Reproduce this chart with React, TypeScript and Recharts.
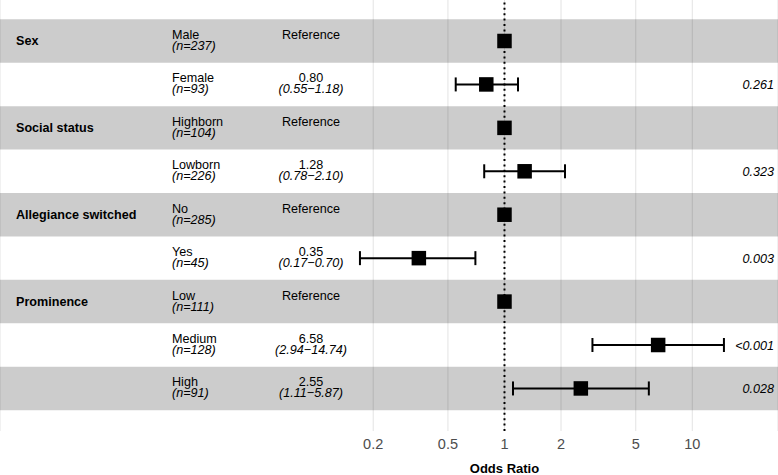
import React from "react";
import {
  CartesianGrid,
  ErrorBar,
  ReferenceArea,
  ReferenceLine,
  Scatter,
  ScatterChart,
  XAxis,
  YAxis,
} from "recharts";

const groups = ["Sex", "", "Social status", "", "Allegiance switched", "", "Prominence", "", ""];
const levels = ["Male", "Female", "Highborn", "Lowborn", "No", "Yes", "Low", "Medium", "High"];
const counts = [237, 93, 104, 226, 285, 45, 111, 128, 91];
const oddsRatios = [1, 0.8, 1, 1.28, 1, 0.35, 1, 6.58, 2.55];
const ciLow: (number | null)[] = [null, 0.55, null, 0.78, null, 0.17, null, 2.94, 1.11];
const ciHigh: (number | null)[] = [null, 1.18, null, 2.1, null, 0.7, null, 14.74, 5.87];
const pValues = ["", "0.261", "", "0.323", "", "0.003", "", "<0.001", "0.028"];
const xTicks = [0.2, 0.5, 1, 2, 5, 10];

const rows = levels.map((level, i) => ({
  row: i + 1,
  group: groups[i],
  level,
  n: counts[i],
  or: oddsRatios[i],
  lo: ciLow[i],
  hi: ciHigh[i],
  p: pValues[i],
  err: ciLow[i] == null ? undefined : [oddsRatios[i] - (ciLow[i] as number), (ciHigh[i] as number) - oddsRatios[i]],
}));
const refRows = rows.filter((r) => r.lo == null);
const estRows = rows.filter((r) => r.lo != null);
const rowIds = rows.map((r) => r.row);

const FONT = "'Liberation Sans', Arial, Helvetica, sans-serif";
const W = 778;
const H = 475;

// text column positions
const COL_GROUP = 16;
const COL_LEVEL = 172;
const COL_EST = 311;
const COL_P = 774;
const LINE1 = -2;
const LINE2 = 9;

const Square = (props: any) => {
  const { cx, cy } = props;
  const s = 14.5;
  return <rect x={cx - s / 2} y={cy - s / 2} width={s} height={s} fill="#000" />;
};

const LeftTick = (props: any) => {
  const { y, payload } = props;
  const r = rows[payload.value - 1];
  if (!r) return null;
  const est = r.lo == null;
  return (
    <g fontFamily={FONT} fontSize={12.6} fill="#000">
      {r.group && (
        <text x={COL_GROUP} y={y + 4.5} fontWeight="bold">
          {r.group}
        </text>
      )}
      <text x={COL_LEVEL} y={y + LINE1}>{r.level}</text>
      <text x={COL_LEVEL} y={y + LINE2} fontStyle="italic">{`(n=${r.n})`}</text>
      {est ? (
        <text x={COL_EST} y={y + LINE1} textAnchor="middle">Reference</text>
      ) : (
        <>
          <text x={COL_EST} y={y + LINE1} textAnchor="middle">{r.or.toFixed(2)}</text>
          <text x={COL_EST} y={y + LINE2} textAnchor="middle" fontStyle="italic">
            {`(${(r.lo as number).toFixed(2)}\u2212${(r.hi as number).toFixed(2)})`}
          </text>
        </>
      )}
    </g>
  );
};

const RightTick = (props: any) => {
  const { y, payload } = props;
  const r = rows[payload.value - 1];
  if (!r || !r.p) return null;
  return (
    <text x={COL_P} y={y + 4.5} textAnchor="end" fontFamily={FONT} fontSize={12.6} fontStyle="italic" fill="#000">
      {r.p}
    </text>
  );
};

export default function App() {
  return (
    <div style={{ position: "absolute", left: 0, top: 0, width: W, height: H, background: "#fff" }}>
      <ScatterChart width={W} height={H} margin={{ top: 0, right: -1, bottom: 14, left: -1 }}>
        <CartesianGrid horizontal={false} stroke="#e3e3e3" strokeWidth={1} />
        <XAxis
          type="number"
          dataKey="or"
          scale="log"
          domain={[0.00206, 28.6]}
          allowDataOverflow
          ticks={xTicks}
          tickFormatter={(v: number) => String(v)}
          axisLine={false}
          tickLine={false}
          tickSize={6}
          tickMargin={2}
          height={30}
          tick={{ fill: "#4d4d4d", fontSize: 14.5, fontFamily: FONT }}
        />
        <YAxis
          yAxisId="left"
          type="number"
          dataKey="row"
          domain={[0.056, 9.98]}
          reversed
          allowDataOverflow
          ticks={rowIds}
          interval={0}
          width={1}
          axisLine={false}
          tickLine={false}
          tick={<LeftTick />}
        />
        <YAxis
          yAxisId="right"
          orientation="right"
          type="number"
          dataKey="row"
          domain={[0.056, 9.98]}
          reversed
          allowDataOverflow
          ticks={rowIds}
          interval={0}
          width={1}
          axisLine={false}
          tickLine={false}
          tick={<RightTick />}
        />
        {rows
          .filter((r) => r.row % 2 === 1)
          .map((r) => (
            <ReferenceArea
              key={r.row}
              yAxisId="left"
              y1={r.row - 0.5}
              y2={r.row + 0.5}
              fill="#000"
              fillOpacity={0.2}
              stroke="none"
            />
          ))}
        <ReferenceLine
          yAxisId="left"
          x={1}
          stroke="#000"
          strokeWidth={2}
          strokeDasharray="2 3.4"
          label={{
            value: "Odds Ratio",
            position: "bottom",
            offset: 33,
            fill: "#000",
            fontSize: 13,
            fontWeight: "bold",
            fontFamily: FONT,
          }}
        />
        <Scatter yAxisId="left" data={refRows} shape={<Square />} isAnimationActive={false} />
        <Scatter yAxisId="left" data={estRows} shape={<Square />} isAnimationActive={false}>
          <ErrorBar dataKey="err" direction="x" width={7} strokeWidth={2} stroke="#000" />
        </Scatter>
      </ScatterChart>
    </div>
  );
}
